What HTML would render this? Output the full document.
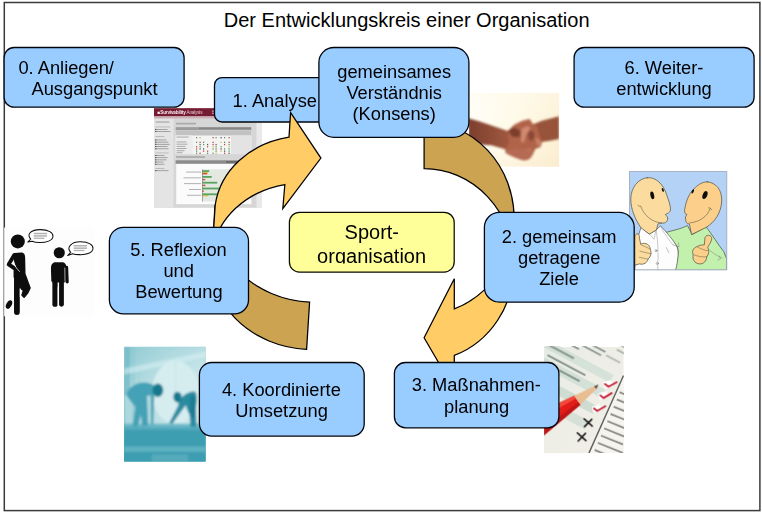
<!DOCTYPE html>
<html>
<head>
<meta charset="utf-8">
<title>Der Entwicklungskreis einer Organisation</title>
<style>
html,body{margin:0;padding:0;background:#fff;}
body{width:762px;height:513px;overflow:hidden;font-family:"Liberation Sans",sans-serif;}
svg{display:block;}
text{font-family:"Liberation Sans",sans-serif;fill:#000;}
.b{fill:#99ccff;stroke:#02040c;stroke-width:1.3;}
.t18{font-size:18.3px;}
.t20{font-size:20px;}
.al{fill:#ffcc66;stroke:#000;stroke-width:1.25;stroke-linejoin:miter;}
.ad{fill:#cca350;stroke:#000;stroke-width:1.25;stroke-linejoin:miter;}
</style>
</head>
<body>
<svg width="762" height="513" viewBox="0 0 762 513">
<defs>
<clipPath id="cSport"><rect x="289" y="212" width="166" height="51.6"/></clipPath>
<filter id="bl4" x="-5%" y="-5%" width="110%" height="110%"><feGaussianBlur stdDeviation="0.45"/></filter>
<filter id="bl8" x="-10%" y="-10%" width="120%" height="120%"><feGaussianBlur stdDeviation="0.9"/></filter>
<clipPath id="cHands"><rect x="469" y="92.9" width="90.1" height="73.7"/></clipPath>
<linearGradient id="gh" x1="0" y1="0" x2="1" y2="0"><stop offset="0" stop-color="#fffef6"/><stop offset=".5" stop-color="#fffae6"/><stop offset="1" stop-color="#fcefd0"/></linearGradient>
<linearGradient id="gh2" x1="0" y1="0" x2="0" y2="1"><stop offset="0" stop-color="#fffaf0" stop-opacity=".5"/><stop offset=".5" stop-color="#fff" stop-opacity="0"/><stop offset="1" stop-color="#f6e2c2" stop-opacity=".3"/></linearGradient>
<linearGradient id="gla" x1="0" y1="0" x2="1" y2="0"><stop offset="0" stop-color="#7c3e2e"/><stop offset=".6" stop-color="#9a543c"/><stop offset="1" stop-color="#ac6046"/></linearGradient>
<clipPath id="cCart"><rect x="22" y="18" width="470" height="475"/></clipPath>
<filter id="blc" x="-5%" y="-5%" width="110%" height="110%"><feGaussianBlur stdDeviation="1.6"/></filter>
<filter id="bls" x="-5%" y="-5%" width="110%" height="110%"><feGaussianBlur stdDeviation="0.5"/></filter>
<clipPath id="cTeal"><rect x="25" y="20" width="338" height="475"/></clipPath>
<filter id="blt" x="-5%" y="-5%" width="110%" height="110%"><feGaussianBlur stdDeviation="4"/></filter>
<linearGradient id="gt1" x1="0" y1="0" x2="0" y2="1"><stop offset="0" stop-color="#a5d4db"/><stop offset="1" stop-color="#3f9fb2"/></linearGradient>
<linearGradient id="gt2" x1="0" y1="0" x2="1" y2="0"><stop offset="0" stop-color="#8fc9d2"/><stop offset=".5" stop-color="#b5dce2"/><stop offset="1" stop-color="#cfe9ec"/></linearGradient>
<clipPath id="cChk"><rect x="27" y="22" width="350" height="468"/></clipPath>
<filter id="blk" x="-5%" y="-5%" width="110%" height="110%"><feGaussianBlur stdDeviation="2.6"/></filter>
<filter id="blk2" x="-5%" y="-5%" width="110%" height="110%"><feGaussianBlur stdDeviation="1.6"/></filter>
<linearGradient id="gk" x1="0" y1="0" x2="1" y2="1"><stop offset="0" stop-color="#e6ece6"/><stop offset=".45" stop-color="#eeeee6"/><stop offset="1" stop-color="#f2efe8"/></linearGradient>
<linearGradient id="gt3" x1="0" y1="0" x2="0" y2="1"><stop offset="0" stop-color="#8ccad3" stop-opacity=".35"/><stop offset=".5" stop-color="#e0f2f4" stop-opacity=".35"/><stop offset="1" stop-color="#e0f2f4" stop-opacity=".3"/></linearGradient>
</defs>
<rect x="0" y="0" width="762" height="513" fill="#fff"/>
<!-- frame -->
<rect x="4.3" y="2.5" width="755.6" height="508.1" fill="none" stroke="#3a3a3a" stroke-width="1.5"/>
<text x="223.8" y="26.6" class="t20">Der Entwicklungskreis einer Organisation</text>

<!-- IMG: screenshot -->
<g id="img-shot" filter="url(#bl4)">
<rect x="154" y="108.2" width="107.5" height="99.6" fill="#d6d6d6"/>
<rect x="256.5" y="117" width="5" height="90.8" fill="#e9e9e9"/>
<rect x="154" y="118.5" width="19.5" height="89.3" fill="#e4e4e4"/>
<rect x="154" y="108.2" width="107.5" height="8.2" fill="#761a30"/>
<rect x="154" y="116.4" width="107.5" height="2" fill="#cdb0b7"/>
<text x="157.6" y="114.4" style="font-size:4.6px;font-weight:bold;fill:#f6ecef;letter-spacing:-.15px">■Survivability<tspan style="font-weight:normal;fill:#e0c4cb"> Analysis</tspan></text><g fill="#f3e6e9"><rect x="212" y="110.5" width="5" height="1.2" opacity=".7"/><rect x="212" y="112.7" width="5" height="1.2" opacity=".7"/></g>
<g fill="#9a9a9a"><rect x="155.5" y="121.5" width="14" height="1"/><rect x="155.5" y="126.5" width="15" height=".9" opacity=".6"/>
<rect x="155.5" y="129" width="12" height=".9"/><rect x="155.5" y="131" width="15" height=".9"/>
<rect x="155.5" y="136" width="9" height=".9" opacity=".6"/><rect x="155.5" y="139.5" width="11" height=".9"/><rect x="155.5" y="141.7" width="13" height=".9"/><rect x="155.5" y="143.9" width="14" height=".9"/><rect x="155.5" y="146.1" width="12" height=".9"/><rect x="155.5" y="148.3" width="13" height=".9"/>
<rect x="155.5" y="152.5" width="13" height=".9" opacity=".6"/><rect x="155.5" y="155" width="9" height=".9"/><rect x="155.5" y="157.2" width="12" height=".9"/><rect x="155.5" y="159.4" width="11" height=".9"/><rect x="155.5" y="161.6" width="8" height=".9"/><rect x="155.5" y="163.8" width="9" height=".9"/>
<rect x="155.5" y="168" width="9" height=".9" opacity=".6"/><rect x="155.5" y="170.2" width="13" height=".9"/></g>
<g fill="#444"><rect x="155.2" y="128.9" width="1.1" height="1.1"/><rect x="155.2" y="130.9" width="1.1" height="1.1"/><rect x="155.2" y="139.4" width="1.1" height="1.1"/><rect x="155.2" y="141.6" width="1.1" height="1.1"/><rect x="155.2" y="143.8" width="1.1" height="1.1"/><rect x="155.2" y="146" width="1.1" height="1.1"/><rect x="155.2" y="148.2" width="1.1" height="1.1"/><rect x="155.2" y="154.9" width="1.1" height="1.1"/><rect x="155.2" y="157.1" width="1.1" height="1.1"/><rect x="155.2" y="159.3" width="1.1" height="1.1"/><rect x="155.2" y="161.5" width="1.1" height="1.1"/><rect x="155.2" y="163.7" width="1.1" height="1.1"/><rect x="155.2" y="170.1" width="1.1" height="1.1"/></g>
<rect x="176" y="122.8" width="20" height="1.6" fill="#a8a8a8"/>
<rect x="175.6" y="127.1" width="75.8" height="27" fill="#f4f4f4"/>
<rect x="175.6" y="127.1" width="75.8" height="3.2" fill="#9c9c9c"/>
<rect x="175.6" y="130.3" width="75.8" height="5.2" fill="#c2c2c2"/>
<rect x="199" y="127.5" width="52" height="1.6" fill="#858585"/>
<rect x="175.6" y="135.5" width="17" height="18.6" fill="#ececec"/>
<g fill="#a2a2a2"><rect x="176.5" y="136.6" width="12" height=".9"/><rect x="176.5" y="141.5" width="10" height=".9"/><rect x="176.5" y="143.7" width="11" height=".9"/><rect x="176.5" y="145.9" width="9" height=".9"/><rect x="176.5" y="148.1" width="10" height=".9"/><rect x="176.5" y="150.3" width="8" height=".9"/><rect x="176.5" y="152.3" width="6" height=".9"/></g>
<rect x="231" y="135.5" width="20.4" height="18.6" fill="#e3e3e3"/>
<g><rect x="196.0" y="137.0" width="1.2" height="1.3" fill="#4f9a56"/><rect x="199.5" y="137.0" width="1.2" height="1.3" fill="#c9b84a"/><rect x="212.5" y="137.0" width="1.2" height="1.3" fill="#c4453c"/><rect x="215.5" y="137.0" width="1.2" height="1.3" fill="#4f9a56"/><rect x="220.5" y="137.0" width="1.2" height="1.3" fill="#555"/><rect x="224.0" y="137.0" width="1.2" height="1.3" fill="#4f9a56"/><rect x="228.5" y="137.0" width="1.2" height="1.3" fill="#c4453c"/><rect x="196.0" y="141.7" width="1.2" height="1.3" fill="#4f9a56"/><rect x="199.5" y="141.7" width="1.2" height="1.3" fill="#c4453c"/><rect x="203.0" y="141.7" width="1.2" height="1.3" fill="#4f9a56"/><rect x="212.5" y="141.7" width="1.2" height="1.3" fill="#c4453c"/><rect x="220.5" y="141.7" width="1.2" height="1.3" fill="#c9b84a"/><rect x="224.0" y="141.7" width="1.2" height="1.3" fill="#4f9a56"/><rect x="228.5" y="141.7" width="1.2" height="1.3" fill="#c4453c"/><rect x="199.5" y="143.9" width="1.2" height="1.3" fill="#555"/><rect x="203.0" y="143.9" width="1.2" height="1.3" fill="#4f9a56"/><rect x="207.0" y="143.9" width="1.2" height="1.3" fill="#555"/><rect x="212.5" y="143.9" width="1.2" height="1.3" fill="#c4453c"/><rect x="215.5" y="143.9" width="1.2" height="1.3" fill="#555"/><rect x="224.0" y="143.9" width="1.2" height="1.3" fill="#c4453c"/><rect x="228.5" y="143.9" width="1.2" height="1.3" fill="#4f9a56"/><rect x="196.0" y="146.1" width="1.2" height="1.3" fill="#c4453c"/><rect x="199.5" y="146.1" width="1.2" height="1.3" fill="#4f9a56"/><rect x="207.0" y="146.1" width="1.2" height="1.3" fill="#c4453c"/><rect x="212.5" y="146.1" width="1.2" height="1.3" fill="#c9b84a"/><rect x="215.5" y="146.1" width="1.2" height="1.3" fill="#4f9a56"/><rect x="220.5" y="146.1" width="1.2" height="1.3" fill="#4f9a56"/><rect x="228.5" y="146.1" width="1.2" height="1.3" fill="#c9b84a"/><rect x="196.0" y="148.3" width="1.2" height="1.3" fill="#c4453c"/><rect x="199.5" y="148.3" width="1.2" height="1.3" fill="#555"/><rect x="203.0" y="148.3" width="1.2" height="1.3" fill="#555"/><rect x="212.5" y="148.3" width="1.2" height="1.3" fill="#4f9a56"/><rect x="215.5" y="148.3" width="1.2" height="1.3" fill="#c4453c"/><rect x="220.5" y="148.3" width="1.2" height="1.3" fill="#555"/><rect x="224.0" y="148.3" width="1.2" height="1.3" fill="#4f9a56"/><rect x="228.5" y="148.3" width="1.2" height="1.3" fill="#4f9a56"/><rect x="196.0" y="150.5" width="1.2" height="1.3" fill="#4f9a56"/><rect x="203.0" y="150.5" width="1.2" height="1.3" fill="#c4453c"/><rect x="207.0" y="150.5" width="1.2" height="1.3" fill="#c4453c"/><rect x="215.5" y="150.5" width="1.2" height="1.3" fill="#4f9a56"/><rect x="220.5" y="150.5" width="1.2" height="1.3" fill="#c9b84a"/><rect x="224.0" y="150.5" width="1.2" height="1.3" fill="#555"/><rect x="228.5" y="150.5" width="1.2" height="1.3" fill="#4f9a56"/><rect x="196.0" y="152.6" width="1.2" height="1.3" fill="#4f9a56"/><rect x="199.5" y="152.6" width="1.2" height="1.3" fill="#c4453c"/><rect x="207.0" y="152.6" width="1.2" height="1.3" fill="#4f9a56"/><rect x="212.5" y="152.6" width="1.2" height="1.3" fill="#4f9a56"/><rect x="215.5" y="152.6" width="1.2" height="1.3" fill="#c9b84a"/><rect x="224.0" y="152.6" width="1.2" height="1.3" fill="#c4453c"/><rect x="228.5" y="152.6" width="1.2" height="1.3" fill="#555"/></g>
<rect x="176" y="156.2" width="29" height="1.6" fill="#a8a8a8"/>
<rect x="176.2" y="160.2" width="75.2" height="44" fill="#fbfbfb"/>
<rect x="175.6" y="160.2" width="75.8" height="3.6" fill="#8c8c8c"/>
<rect x="226" y="161" width="25" height="2" fill="#6e6e6e"/>
<rect x="202.2" y="169.3" width="38" height="32.2" fill="#e3e8e0"/>
<g fill="#aaa"><rect x="186" y="171.6" width="15" height=".9"/><rect x="183.5" y="177.4" width="17.5" height=".9"/><rect x="184" y="183.2" width="17" height=".9"/><rect x="189" y="189" width="12" height=".9"/><rect x="187" y="194.8" width="14" height=".9"/></g>
<g fill="#58a35e"><rect x="202.2" y="170.2" width="7" height="1.8"/><rect x="202.2" y="176" width="9.5" height="1.8"/><rect x="202.2" y="181.8" width="15" height="1.8"/><rect x="202.2" y="187.6" width="17" height="1.8"/><rect x="202.2" y="193.4" width="17" height="1.8"/></g>
<g fill="#c8c04a"><rect x="202.2" y="171.9" width="5.5" height="1.3"/><rect x="202.2" y="195" width="6" height="1.3"/></g>
<g fill="#d0503a"><rect x="202.2" y="173" width="5" height="1.4"/><rect x="202.2" y="178.9" width="3" height="1.4"/><rect x="202.2" y="184.7" width="3.2" height="1.4"/><rect x="202.2" y="190.4" width="1.6" height="1.4"/></g>
<rect x="202" y="169.3" width=".6" height="32.2" fill="#777"/>
</g>
<!-- IMG: handshake -->
<g id="img-hands">
<rect x="469" y="92.9" width="90.1" height="73.7" fill="url(#gh)"/>
<rect x="469" y="92.9" width="90.1" height="73.7" fill="url(#gh2)"/>
<g filter="url(#bl8)" clip-path="url(#cHands)">
<polygon points="468.3,118.3 479.7,121.6 494.5,126.5 507.9,130.9 514.1,127.3 523.9,130.6 519.0,142.0 510.8,151.0 502.6,148.6 491.2,145.3 479.7,144.5 468.3,142.0" fill="url(#gla)"/>
<polygon points="532.1,124.8 541.9,120.7 551.7,118.3 559.1,116.2 559.1,139.1 550.1,140.7 541.1,142.0 537.0,137.1" fill="#98523a"/>
<polygon points="507.9,130.9 514.1,124.8 522.3,120.7 529.6,119.1 532.4,123.2 537.0,126.5 539.5,135.5 541.9,142.8 540.6,146.9 535.4,148.9 532.4,155.1 528.0,160.0 522.3,160.3 514.1,156.7 506.7,153.5 505.1,150.2 509.2,143.6" fill="#b0644a"/>
<polygon points="507.9,130.9 514.1,127.3 520.6,130.9 519.8,137.1 512.5,137.1" fill="#7e3c2b"/>
<polygon points="505.1,150.2 512.5,148.6 519.0,151.0 514.1,155.1" fill="#7a3828"/>
<polygon points="521.5,128.9 527.2,126.0 530.5,128.1 525.9,135.5 523.9,142.8 521.1,142.0" fill="#d08a70"/>
<polygon points="514.1,152.6 522.3,150.2 530.5,148.6 531.8,152.6 527.2,157.6 520.6,157.6" fill="#c47a62"/>
<polygon points="535.4,137.1 540.3,140.4 540.6,145.6 537.0,145.3" fill="#c98268"/>
<polygon points="528.3,131.5 532.6,130.4 534.7,135.8 532.6,141.1 529.3,140.0 527.7,135.8" fill="#8c4635"/>
<polygon points="505.7,149.7 514.3,148.6 527.2,149.7 533.6,152.9 530.4,158.3 524.0,160.4 516.5,158.3 508.9,155.1 505.2,152.4" fill="#b56a52"/>
</g></g>
<!-- IMG: cartoon -->
<g id="img-cartoon">
<rect x="629.5" y="171.6" width="97.3" height="98.3" fill="#b4d2f6"/>
<g transform="translate(625,168) scale(0.20663)" clip-path="url(#cCart)" filter="url(#blc)">
<g stroke="#4e4e40" stroke-width="3.4" stroke-linejoin="round" stroke-linecap="round">
<!-- right body (green) -->
<path d="M198,312 C240,300 280,292 302,278 L325,322 L392,284 C420,320 450,370 478,405 L492,440 L492,495 L240,495 C255,440 262,400 252,380 C240,360 215,340 198,312 Z" fill="#c2f1ae"/>
<!-- left body (white shirt) -->
<path d="M78,288 C60,330 50,400 48,495 L245,495 C258,440 262,400 250,378 C235,350 200,310 172,280 L150,300 L118,318 Z" fill="#fdfdfd"/>
<path d="M150,300 C160,350 162,420 158,495" fill="none" stroke-width="2.2" stroke="#8a8a8a"/>
<path d="M172,282 C190,320 215,350 232,372 M118,318 L140,345 L150,302" fill="none" stroke-width="2.2" stroke="#8a8a8a"/>
<circle cx="150" cy="400" r="5" fill="#fff" stroke-width="2"/><circle cx="156" cy="462" r="5" fill="#fff" stroke-width="2"/>
<path d="M200,385 L212,410 M232,372 L262,382 L258,360" fill="none" stroke-width="2.2" stroke="#777"/>
<!-- left head -->
<path d="M108,47 C150,42 185,80 200,125 C210,155 222,182 220,203 C216,222 198,220 195,226 C212,236 210,260 190,266 C178,268 168,266 160,270 L152,300 L118,320 L78,290 C50,250 28,200 28,150 C28,95 65,50 108,47 Z" fill="#fbdc9e"/>
<!-- right head -->
<path d="M398,67 C440,70 470,105 468,160 C466,215 435,262 392,288 L322,322 L312,272 C300,268 292,262 294,250 C290,240 294,232 300,226 C288,222 286,208 290,195 C296,160 310,120 340,95 C358,78 378,66 398,67 Z" fill="#fcd08a"/>
<!-- left hand -->
<path d="M52,322 C60,312 72,322 70,340 L76,368 C100,358 122,372 122,392 C130,410 125,430 112,440 C108,458 90,470 70,464 L48,470 L48,330 Z" fill="#fbdc9e"/>
<path d="M76,370 C92,380 110,385 122,392 M72,402 C92,408 110,412 126,415 M70,432 C88,436 100,440 112,440" fill="none" stroke-width="2.2"/>
<!-- right hand -->
<path d="M388,335 C395,320 418,322 420,342 C418,360 405,372 400,385 C410,400 405,420 395,430 C395,450 380,466 360,464 C335,462 325,440 330,420 C322,405 330,385 350,380 C362,372 376,372 382,372 Z" fill="#fcd08a"/>
<path d="M352,382 C365,392 385,398 400,400 M334,420 C352,428 375,432 396,430" fill="none" stroke-width="2.2"/>
<path d="M412,400 C430,415 450,428 470,435 M455,425 L462,440 L448,445" fill="none" stroke-width="2.2" stroke="#777"/>
<!-- smiles -->
<path d="M62,180 C66,186 72,186 76,184 C90,225 125,262 178,266" fill="none" stroke-width="2.6"/>
<path d="M412,196 C400,235 360,262 312,266" fill="none" stroke-width="2.6"/>
<path d="M405,192 C410,192 416,196 420,202" fill="none" stroke-width="2.6"/>
</g>
<ellipse cx="132" cy="132" rx="9" ry="19" transform="rotate(-12 132 132)" fill="#111"/>
<ellipse cx="183" cy="106" rx="4.5" ry="10" transform="rotate(-20 183 106)" fill="#111"/>
<ellipse cx="387" cy="131" rx="11" ry="20" transform="rotate(22 387 131)" fill="#111"/>
<ellipse cx="328" cy="113" rx="5" ry="11" transform="rotate(25 328 113)" fill="#111"/>
</g>
<rect x="629.5" y="171.6" width="97.3" height="98.3" fill="none" stroke="#9aa4b4" stroke-width=".8"/>
</g>
<!-- IMG: silhouettes -->
<rect x="4.15" y="227.6" width="90.5" height="88.7" fill="#fdfdfd"/>
<g id="img-sil" filter="url(#bls)">
<g transform="translate(2,230) scale(0.17544)">
<g fill="#0a0a0a" stroke="#0a0a0a" stroke-linejoin="round" stroke-linecap="round">
<circle cx="90" cy="65" r="40" stroke="none"/>
<path d="M72,135 L112,132 C124,134 128,142 128,158 L130,250 L160,330 L146,360 L126,384 L114,372 L122,345 L102,330 L100,262 L70,268 L70,232 L96,238 L72,182 Z" stroke-width="8"/>
<path d="M70,142 L38,196 L90,232" fill="none" stroke-width="22"/>
<path d="M85,265 L85,468" fill="none" stroke-width="33"/>
<ellipse cx="40" cy="425" rx="15" ry="26" transform="rotate(28 40 425)" stroke="none"/>
</g>
<path d="M67,180 C72,205 84,222 100,236" fill="none" stroke="#fff" stroke-width="4.5" stroke-linecap="round"/>
<path d="M104,335 L104,380" fill="none" stroke="#fff" stroke-width="5" stroke-linecap="round"/>
</g>
<g transform="translate(0,225) scale(0.18519)">
<g fill="#0a0a0a" stroke="#0a0a0a" stroke-linejoin="round" stroke-linecap="round">
<circle cx="320" cy="150" r="30" stroke="none"/>
<path d="M298,212 L338,212 C346,214 348,222 348,235 L346,300 L288,300 L286,235 C286,222 290,214 298,212 Z" stroke-width="22"/>
<path d="M360,228 L363,308" fill="none" stroke-width="16"/>
<path d="M297,310 L297,428" fill="none" stroke-width="28"/>
<path d="M332,310 L332,428" fill="none" stroke-width="26"/>
</g>
<path d="M350,230 L351,306" fill="none" stroke="#fff" stroke-width="3.5"/>
<path d="M314,335 L314,432" fill="none" stroke="#fff" stroke-width="4"/>
<g fill="#fff" stroke="#111" stroke-width="5.5" stroke-linejoin="round">
<path d="M150,92 L166,76 C140,50 170,24 218,25 C262,25 288,42 286,62 C284,84 250,96 212,95 C196,95 182,92 174,88 Z"/>
<path d="M365,165 L382,148 C355,120 388,90 435,91 C480,91 504,108 502,128 C500,150 468,161 430,160 C414,160 400,158 392,155 Z"/>
</g>
<g fill="#b0b0b0"><rect x="182" y="42" width="72" height="8"/><rect x="182" y="55" width="72" height="8"/><rect x="182" y="68" width="58" height="7"/>
<rect x="398" y="108" width="72" height="8"/><rect x="398" y="121" width="72" height="8"/><rect x="398" y="134" width="58" height="7"/></g>
</g>
</g>
<!-- IMG: teal -->
<g id="img-teal">
<rect x="124" y="346.8" width="81.7" height="114.8" fill="url(#gt1)"/>
<g transform="translate(118,342) scale(0.24165)" clip-path="url(#cTeal)">
<g filter="url(#blt)">
<rect x="25" y="20" width="340" height="335" fill="url(#gt2)"/>
<rect x="25" y="20" width="340" height="340" fill="url(#gt3)"/>
<rect x="25" y="20" width="26" height="200" fill="#72bac6" opacity=".75"/>
<rect x="60" y="20" width="9" height="335" fill="#86c5cf" opacity=".6"/>
<rect x="84" y="20" width="6" height="200" fill="#9ad0d8" opacity=".6"/>
<path d="M25,110 L365,40 L365,62 L25,135 Z" fill="#dbf0f2" opacity=".55"/>
<ellipse cx="238" cy="208" rx="97" ry="130" fill="#d6edf0"/>
<path d="M238,80 L238,210 L330,250" fill="none" stroke="#c4e2e7" stroke-width="5"/>
<rect x="25" y="352" width="340" height="150" fill="#3c9db1"/>
<rect x="25" y="338" width="340" height="26" fill="#58aebf" opacity=".8"/>
<rect x="25" y="432" width="340" height="22" fill="#66b8c6" opacity=".8"/>
<rect x="140" y="465" width="150" height="30" fill="#6bbac8" opacity=".5"/>
<path d="M35,215 C45,185 80,165 115,168 C135,170 150,178 160,190 L150,215 C140,222 128,222 120,222 L125,345 L100,350 L95,300 L82,350 L60,350 L72,270 C60,250 40,235 35,215 Z" fill="#45a2b6"/>
<path d="M135,200 L150,215 L146,340 L136,340 Z" fill="#4aa2b4"/>
<ellipse cx="165" cy="200" rx="22" ry="28" fill="#19788d"/>
<path d="M250,250 C262,225 290,202 318,205 C330,215 326,250 322,275 L325,350 L300,352 L296,300 C288,290 284,270 280,262 L225,338 L212,335 L250,262 Z" fill="#2b8ba1"/>
<path d="M300,225 C315,215 326,235 322,275 L318,320 L298,300 Z" fill="#1c7c92"/>
<ellipse cx="246" cy="228" rx="17" ry="22" fill="#19788d"/>
</g></g></g>
<!-- IMG: checklist -->
<g id="img-check">
<rect x="544.1" y="347" width="79.1" height="105.8" fill="#ecebe2"/>
<g transform="translate(538,342) scale(0.22604)" clip-path="url(#cChk)">
<g filter="url(#blk)">
<rect x="27" y="22" width="350" height="470" fill="url(#gk)"/>
<g transform="rotate(28 200 250)">
<rect x="-60" y="95" width="330" height="38" fill="#d0dfd6" opacity=".8"/>
<rect x="-60" y="170" width="330" height="40" fill="#cfded5" opacity=".85"/>
<rect x="-60" y="250" width="330" height="40" fill="#c9d8ce" opacity=".85"/>
<rect x="-60" y="325" width="330" height="42" fill="#cfdcd2" opacity=".8"/>
<g fill="#66756c" opacity=".72">
<rect x="40" y="18" width="150" height="8"/><rect x="60" y="40" width="120" height="8"/><rect x="200" y="30" width="70" height="7" opacity=".7"/>
<rect x="-40" y="62" width="120" height="8"/><rect x="-50" y="108" width="130" height="9"/>
<rect x="-30" y="150" width="190" height="9"/><rect x="-20" y="185" width="170" height="9"/><rect x="-40" y="222" width="90" height="9"/>
<rect x="-70" y="385" width="70" height="9"/><rect x="-110" y="455" width="80" height="9"/>
<rect x="215" y="-40" width="110" height="8" opacity=".7"/><rect x="230" y="-15" width="90" height="8" opacity=".7"/><rect x="120" y="-20" width="70" height="8" opacity=".7"/>
</g>
</g>
<path d="M377,150 L226,492 L377,492 Z" fill="#f6f4ee"/>
<path d="M378,148 L224,494" stroke="#5a5a58" stroke-width="6" fill="none"/>
<g fill="#6e6e6a" opacity=".8">
<rect x="362" y="218" width="40" height="8" transform="rotate(22 362 218)"/>
<rect x="350" y="250" width="50" height="8" transform="rotate(22 350 250)"/>
<rect x="336" y="282" width="60" height="8" transform="rotate(22 336 282)"/>
<rect x="322" y="314" width="70" height="8" transform="rotate(22 322 314)"/>
<rect x="308" y="346" width="80" height="8" transform="rotate(22 308 346)"/>
<rect x="294" y="378" width="95" height="8" transform="rotate(22 294 378)"/>
<rect x="280" y="410" width="105" height="8" transform="rotate(22 280 410)"/>
<rect x="266" y="442" width="120" height="8" transform="rotate(22 266 442)"/>
<rect x="252" y="474" width="80" height="8" transform="rotate(22 252 474)"/>
</g>
<path d="M27,300 L160,238 L188,278 L27,412 Z" fill="#e21a18"/>
<path d="M27,300 L160,238 L168,250 L27,330 Z" fill="#f24a3c"/>
<path d="M27,380 L180,268 L188,278 L27,412 Z" fill="#bc1614"/>
<path d="M160,238 L248,196 L266,190 L258,208 L188,278 Z" fill="#e9bd92"/>
<path d="M248,196 L268,188 L258,208 Z" fill="#5a5450"/>
<rect x="290" y="172" width="40" height="30" rx="8" fill="#fff" opacity=".9" transform="rotate(-15 310 187)"/>
<rect x="268" y="222" width="40" height="30" rx="8" fill="#fff" opacity=".9" transform="rotate(-15 288 237)"/>
<rect x="240" y="280" width="40" height="30" rx="8" fill="#fff" opacity=".9" transform="rotate(-15 260 295)"/>
</g>
<g filter="url(#blk2)" fill="none" stroke-linecap="round" stroke-linejoin="round">
<path d="M296,186 L312,198 L348,178" stroke="#c42034" stroke-width="8"/>
<path d="M276,236 L290,248 L326,226" stroke="#c42034" stroke-width="8"/>
<path d="M248,294 L262,305 L298,284" stroke="#c42034" stroke-width="8"/>
<path d="M204,340 L240,372 M238,342 L206,374" stroke="#1a1a1a" stroke-width="7"/>
<path d="M174,402 L212,436 M210,404 L178,438" stroke="#1a1a1a" stroke-width="7"/>
</g>
</g></g>

<!-- box 1 Analyse -->
<rect class="b" x="214.5" y="77.6" width="125" height="44.4" rx="7.5"/>
<text x="232.6" y="107.2" class="t18">1. Analyse</text>

<!-- left arrow -->
<path class="ad" d="M309.6,302.1 A96.427,82.933 8.418 0 1 215.22,204.86 L212.14,252.09 A96.427,82.933 8.418 0 0 306.6,349.33 Z"/>
<path class="al" d="M290.6,112.6 L320.9,158.1 L282.8,208.6 L284.85,184.53 A96.427,82.933 8.418 0 0 212.14,252.09 L215.22,204.86 A96.427,82.933 8.418 0 1 289.0,137.1 Z"/>

<!-- right arrow -->
<path class="ad" d="M424.1,122.3 A90,96.1 0 0 1 514.1,218.4 L514.1,264.8 A90,96.1 0 0 0 424.1,168.7 Z"/>
<path class="al" d="M424.1,337.7 L454.3,278.7 L454.3,308.9 A90,96.1 0 0 0 514.1,218.4 L514.1,264.8 A90,96.1 0 0 1 454.3,355.4 L454.3,389.5 Z"/>

<!-- box gemeinsames -->
<rect class="b" x="318.9" y="47.5" width="150" height="89.8" rx="15"/>
<text x="394.2" y="78.2" class="t18" text-anchor="middle">gemeinsames</text>
<text x="394.2" y="99.2" class="t18" text-anchor="middle">Verständnis</text>
<text x="394.2" y="120.3" class="t18" text-anchor="middle">(Konsens)</text>

<!-- box 0 -->
<rect class="b" x="4.1" y="47.5" width="180" height="59.7" rx="10"/>
<text x="18.4" y="73.6" class="t18">0. Anliegen/</text>
<text x="31.5" y="94.6" class="t18">Ausgangspunkt</text>

<!-- box 6 -->
<rect class="b" x="574.1" y="47.5" width="180" height="59.7" rx="10"/>
<text x="664" y="73.7" class="t18" text-anchor="middle">6. Weiter-</text>
<text x="664" y="94.9" class="t18" text-anchor="middle">entwicklung</text>

<!-- sport -->
<rect x="289.4" y="212.3" width="164.8" height="59.8" rx="10" fill="#ffff99" stroke="#0a0a00" stroke-width="1.25"/>
<g clip-path="url(#cSport)">
<text x="371.8" y="239.4" class="t20" text-anchor="middle">Sport-</text>
<text x="371.6" y="262.5" class="t20" text-anchor="middle">organisation</text>
</g>

<!-- box 2 -->
<rect class="b" x="484.4" y="212.3" width="149.8" height="89.9" rx="15"/>
<text x="559.2" y="242.8" class="t18" text-anchor="middle">2. gemeinsam</text>
<text x="559.2" y="264.0" class="t18" text-anchor="middle">getragene</text>
<text x="559" y="285.0" class="t18" text-anchor="middle">Ziele</text>

<!-- box 5 -->
<rect class="b" x="109.4" y="227.3" width="139.1" height="86.6" rx="14"/>
<text x="178.5" y="256.1" class="t18" text-anchor="middle">5. Reflexion</text>
<text x="178.7" y="277.1" class="t18" text-anchor="middle">und</text>
<text x="178.9" y="298.0" class="t18" text-anchor="middle">Bewertung</text>

<!-- box 4 -->
<rect class="b" x="199.4" y="362.5" width="164.8" height="73.6" rx="12.3"/>
<text x="281.4" y="395.7" class="t18" text-anchor="middle">4. Koordinierte</text>
<text x="281.6" y="416.9" class="t18" text-anchor="middle">Umsetzung</text>

<!-- box 3 -->
<rect class="b" x="394.4" y="362.5" width="164.5" height="65.3" rx="11"/>
<text x="476.3" y="391.4" class="t18" text-anchor="middle">3. Maßnahmen-</text>
<text x="476.6" y="412.6" class="t18" text-anchor="middle">planung</text>
</svg>
</body>
</html>
